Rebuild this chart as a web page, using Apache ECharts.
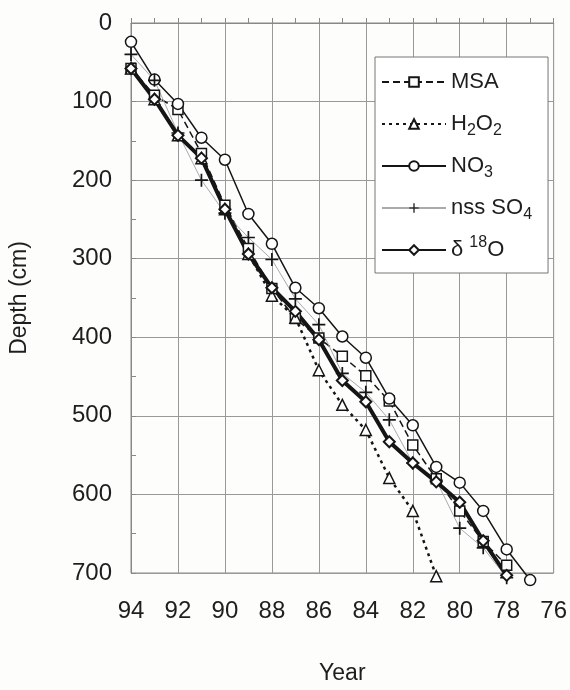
<!DOCTYPE html>
<html>
<head>
<meta charset="utf-8">
<script src="https://cdn.jsdelivr.net/npm/echarts@6/dist/echarts.min.js"></script>
<style>
  html, body { margin: 0; padding: 0; background: #fdfdfc; }
  #chart { width: 570px; height: 690px; }
</style>
</head>
<body>
<div id="chart"></div>
<script>
// Ice-core dating: depth of each annual marker for five tracers
const yearTicks = [94, 92, 90, 88, 86, 84, 82, 80, 78, 76];

const msaYears  = [94, 93, 92, 91, 90, 89, 88, 87, 86, 85, 84, 83, 82, 81, 80, 79, 78];
const msaDepth  = [58, 92, 110, 166, 232, 287, 338, 376, 401, 424, 449, 481, 537, 580, 621, 660, 690];

const h2o2Years = [94, 93, 92, 91, 90, 89, 88, 87, 86, 85, 84, 83, 82, 81];
const h2o2Depth = [58, 97, 143, 172, 237, 294, 347, 375, 442, 486, 518, 579, 621, 704];

const no3Years  = [94, 93, 92, 91, 90, 89, 88, 87, 86, 85, 84, 83, 82, 81, 80, 79, 78, 77];
const no3Depth  = [24, 72, 103, 146, 174, 243, 281, 337, 363, 399, 426, 478, 512, 565, 585, 621, 670, 709];

const so4Years  = [94, 93, 92, 91, 90, 89, 88, 87, 86, 85, 84, 83, 82, 81, 80, 79, 78];
const so4Depth  = [40, 73, 140, 200, 242, 273, 301, 351, 384, 446, 470, 505, 560, 582, 643, 668, 706];

const d18oYears = [94, 93, 92, 91, 90, 89, 88, 87, 86, 85, 84, 83, 82, 81, 80, 79, 78];
const d18oDepth = [58, 97, 143, 172, 237, 294, 337, 367, 403, 455, 482, 533, 560, 584, 610, 659, 703];

const pairs = (xs, ys) => xs.map((x, i) => [x, ys[i]]);

const INK = '#151515';
const TEXT = '#1e1e1e';
const FONT = '"Liberation Sans", Arial, Helvetica, sans-serif';
const PLUS = 'path://M4.35,0H5.65V4.35H10V5.65H5.65V10H4.35V5.65H0V4.35H4.35Z';

const legendLabels = {
  'MSA': 'MSA',
  'H2O2': 'H{sub|2}O{sub|2}',
  'NO3': 'NO{sub|3}',
  'nss SO4': 'nss SO{sub|4}',
  'd18O': 'δ {sup|18}O'
};

const openMarker = { color: '#fff', borderColor: INK, borderWidth: 1.5 };

const chart = echarts.init(document.getElementById('chart'), null, { renderer: 'canvas' });
chart.setOption({
  animation: false,
  backgroundColor: '#fdfdfc',
  textStyle: { fontFamily: FONT },
  grid: {
    left: 131, right: 13, top: 23, bottom: 102,
    show: true, borderColor: '#888', borderWidth: 1, backgroundColor: 'transparent'
  },
  legend: {
    orient: 'vertical',
    left: 375, top: 57,
    itemWidth: 64, itemHeight: 12, itemGap: 12, itemTextGap: 8,
    padding: [10, 16, 8, 6],
    backgroundColor: '#fff', borderColor: '#777', borderWidth: 1, borderRadius: 0,
    data: ['MSA', 'H2O2', 'NO3', 'nss SO4', 'd18O'],
    formatter: name => legendLabels[name],
    textStyle: {
      fontFamily: FONT, fontSize: 22, color: TEXT, lineHeight: 30,
      rich: {
        sub: { fontFamily: FONT, fontSize: 16, color: TEXT, lineHeight: 14, verticalAlign: 'bottom' },
        sup: { fontFamily: FONT, fontSize: 16, color: TEXT, lineHeight: 14, verticalAlign: 'top' }
      }
    }
  },
  xAxis: {
    type: 'value', min: 76, max: 94, interval: 2, inverse: true,
    name: 'Year', nameLocation: 'middle', nameGap: 89,
    nameTextStyle: { fontFamily: FONT, fontSize: 23, color: TEXT },
    axisLine: { show: true, lineStyle: { color: '#888', width: 1 } },
    axisTick: { show: true, inside: true, length: 5, lineStyle: { color: '#888' } },
    minorTick: { show: true, splitNumber: 2, length: 5, lineStyle: { color: '#888' } },
    splitLine: { show: true, lineStyle: { color: '#999', width: 1 } },
    axisLabel: {
      fontFamily: FONT, fontSize: 24, color: TEXT, margin: 26,
      formatter: v => (yearTicks.includes(v) ? String(v) : '')
    }
  },
  yAxis: {
    type: 'value', min: 0, max: 700, interval: 100, inverse: true,
    name: 'Depth (cm)', nameLocation: 'middle', nameGap: 100, nameRotate: 90,
    nameTextStyle: { fontFamily: FONT, fontSize: 23, color: TEXT },
    axisLine: { show: true, lineStyle: { color: '#888', width: 1 } },
    axisTick: { show: true, inside: true, length: 5, lineStyle: { color: '#888' } },
    minorTick: { show: true, splitNumber: 2, length: 5, lineStyle: { color: '#888' } },
    splitLine: { show: true, lineStyle: { color: '#999', width: 1 } },
    axisLabel: { fontFamily: FONT, fontSize: 24, color: TEXT, margin: 19 }
  },
  series: [
    {
      name: 'MSA', type: 'line', data: pairs(msaYears, msaDepth), clip: false,
      symbol: 'rect', symbolSize: 10, showAllSymbol: true,
      lineStyle: { color: INK, width: 1.5, type: [7, 4] },
      itemStyle: openMarker
    },
    {
      name: 'H2O2', type: 'line', data: pairs(h2o2Years, h2o2Depth), clip: false,
      symbol: 'triangle', symbolSize: 11, showAllSymbol: true,
      lineStyle: { color: INK, width: 2.5, type: [3, 4] },
      itemStyle: openMarker
    },
    {
      name: 'NO3', type: 'line', data: pairs(no3Years, no3Depth), clip: false,
      symbol: 'circle', symbolSize: 11, showAllSymbol: true,
      lineStyle: { color: INK, width: 1.5 },
      itemStyle: openMarker
    },
    {
      name: 'nss SO4', type: 'line', data: pairs(so4Years, so4Depth), clip: false,
      symbol: PLUS, symbolSize: 13, showAllSymbol: true,
      lineStyle: { color: '#aaa', width: 1 },
      itemStyle: { color: INK, borderWidth: 0 }
    },
    {
      name: 'd18O', type: 'line', data: pairs(d18oYears, d18oDepth), clip: false,
      symbol: 'diamond', symbolSize: 11, showAllSymbol: true,
      lineStyle: { color: INK, width: 4 },
      itemStyle: { color: '#fff', borderColor: INK, borderWidth: 2 }
    }
  ]
});
</script>
</body>
</html>
